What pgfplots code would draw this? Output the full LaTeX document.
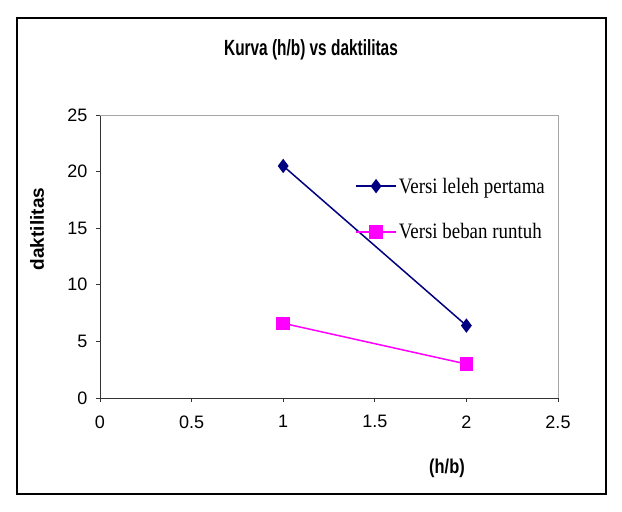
\documentclass[border=0pt]{standalone}
\usepackage{pgfplots}
\pgfplotsset{compat=1.18}
\usepackage{fontspec}
\setmainfont{Liberation Sans}
\newfontfamily\titlesans[FakeStretch=0.7]{Liberation Sans}
\newfontfamily\condsans[FakeStretch=0.82]{Liberation Sans}
\newfontfamily\seriffont[FakeStretch=0.86]{Liberation Serif}
\definecolor{navyline}{RGB}{0,0,128}
\definecolor{magline}{RGB}{255,0,255}
\begin{document}
\begin{tikzpicture}[x=1pt,y=1pt]
\path[use as bounding box] (0,0) rectangle (622,512);
\draw[line width=1.5pt] (17,512-18) rectangle (606,512-494);
\node[font=\titlesans\bfseries\fontsize{22}{24}\selectfont] at (311,512-50) {Kurva (h/b) vs daktilitas};
\node[font=\condsans\bfseries\fontsize{20}{22}\selectfont] at (447,512-468) {(h/b)};
\node[font=\bfseries\fontsize{19}{21}\selectfont,rotate=90] at (37,512-229) {daktilitas};
\begin{axis}[
  at={(100pt,114pt)}, anchor=south west,
  scale only axis, width=458pt, height=283pt,
  xmin=0, xmax=2.5, ymin=0, ymax=25,
  xtick={0,0.5,1,1.5,2,2.5}, ytick={0,5,10,15,20,25},
  axis x line*=bottom, axis y line*=left,
  axis line style={black!80, line width=0.9pt, -},
  tick style={black!80, line width=0.8pt},
  tick align=outside, major tick length=4pt,
  /pgf/number format/assume math mode=true,
  tick label style={font=\fontsize{18}{20}\selectfont},
  xticklabel style={yshift=-10pt},
  yticklabel style={xshift=-5pt},
  legend style={at={(rel axis cs:0.557,0.786)}, anchor=north west, draw=none, fill=none,
    font=\seriffont\fontsize{22}{24}\selectfont, row sep=25pt, inner sep=0pt},
  legend cell align=left,
  legend image code/.code={\draw[mark repeat=2, mark phase=2] plot coordinates {(0pt,0pt) (20pt,0pt) (40pt,0pt)};},
  clip=false,
]
\draw[gray!70, line width=0.8pt] (rel axis cs:0,1) -- (rel axis cs:1,1) -- (rel axis cs:1,0);
\addplot[navyline, line width=1.5pt, mark=diamond*, mark size=6pt, mark options={fill=navyline}]
  coordinates {(1,20.5) (2,6.4)};
\addlegendentry{Versi leleh pertama}
\addplot[magline, line width=1.5pt, mark=square*, mark size=6pt, mark options={fill=magline}]
  coordinates {(1,6.6) (2,3.0)};
\addlegendentry{Versi beban runtuh}
\end{axis}
\end{tikzpicture}
\end{document}
